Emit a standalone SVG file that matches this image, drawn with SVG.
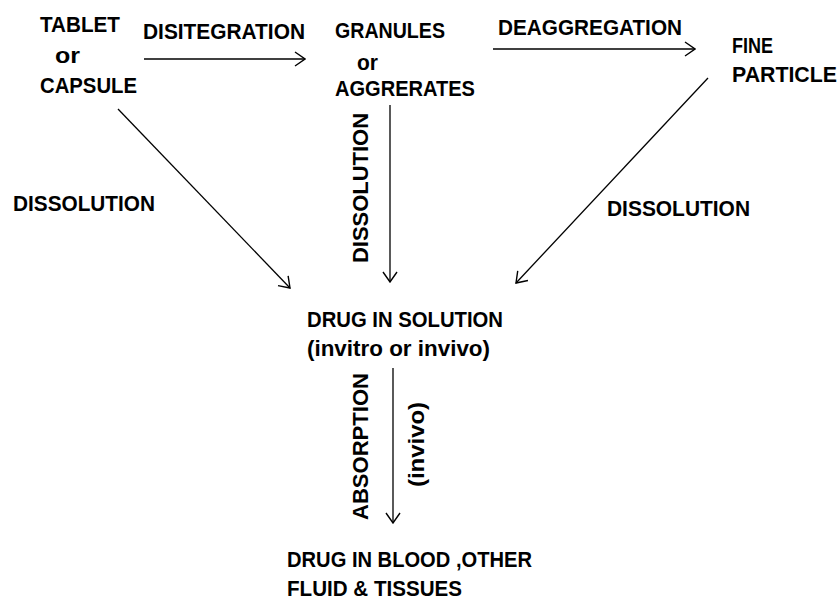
<svg xmlns="http://www.w3.org/2000/svg" width="839" height="601" viewBox="0 0 839 601">
<style>
text{font-family:"Liberation Sans",Arial,sans-serif;font-weight:bold;font-size:22px;fill:#000}
.c line{stroke:#000;stroke-width:1.3;fill:none}
</style>
<defs>
<marker id="ah" markerUnits="userSpaceOnUse" viewBox="0 0 12 16" refX="11" refY="8" markerWidth="12" markerHeight="16" orient="auto">
<path d="M1,1 L11,8 L1,15" fill="none" stroke="#000" stroke-width="1.4"/>
</marker>
</defs>
<rect width="839" height="601" fill="#fff"/>
<g id="tablet">
<text x="40" y="32" textLength="80" lengthAdjust="spacingAndGlyphs">TABLET</text>
<text x="55" y="63" textLength="25" lengthAdjust="spacingAndGlyphs">or</text>
<text x="40" y="93" textLength="97" lengthAdjust="spacingAndGlyphs">CAPSULE</text>
</g>
<g id="granules">
<text x="335" y="38" textLength="110" lengthAdjust="spacingAndGlyphs">GRANULES</text>
<text x="357" y="70" textLength="21" lengthAdjust="spacingAndGlyphs">or</text>
<text x="335" y="96" textLength="140" lengthAdjust="spacingAndGlyphs">AGGRERATES</text>
</g>
<g id="fine">
<text x="732" y="53" textLength="41" lengthAdjust="spacingAndGlyphs">FINE</text>
<text x="732" y="82" textLength="105" lengthAdjust="spacingAndGlyphs">PARTICLE</text>
</g>
<g id="solution">
<text x="307" y="327" textLength="196" lengthAdjust="spacingAndGlyphs">DRUG IN SOLUTION</text>
<text x="307" y="356" textLength="183" lengthAdjust="spacingAndGlyphs">(invitro or invivo)</text>
</g>
<g id="blood">
<text x="287" y="567" textLength="245" lengthAdjust="spacingAndGlyphs">DRUG IN BLOOD ,OTHER</text>
<text x="287" y="596" textLength="175" lengthAdjust="spacingAndGlyphs">FLUID &amp; TISSUES</text>
</g>
<g id="connectors" class="c">
<line x1="144" y1="59" x2="305" y2="59" marker-end="url(#ah)"/>
<line x1="493" y1="49" x2="695" y2="49" marker-end="url(#ah)"/>
<line x1="118" y1="109" x2="290" y2="288" marker-end="url(#ah)"/>
<line x1="390" y1="105" x2="390" y2="282" marker-end="url(#ah)"/>
<line x1="708" y1="78" x2="516" y2="283" marker-end="url(#ah)"/>
<line x1="393" y1="368" x2="393" y2="523" marker-end="url(#ah)"/>
</g>
<g id="labels">
<text x="143" y="39" textLength="162" lengthAdjust="spacingAndGlyphs">DISITEGRATION</text>
<text x="498" y="35" textLength="184" lengthAdjust="spacingAndGlyphs">DEAGGREGATION</text>
<text x="13" y="211" textLength="142" lengthAdjust="spacingAndGlyphs">DISSOLUTION</text>
<text x="607" y="216" textLength="143" lengthAdjust="spacingAndGlyphs">DISSOLUTION</text>
<text transform="translate(368,263) rotate(-90)" textLength="150" lengthAdjust="spacingAndGlyphs">DISSOLUTION</text>
<text transform="translate(368,520) rotate(-90)" textLength="147" lengthAdjust="spacingAndGlyphs">ABSORPTION</text>
<text transform="translate(424,487) rotate(-90)" textLength="85" lengthAdjust="spacingAndGlyphs">(invivo)</text>
</g>
</svg>
